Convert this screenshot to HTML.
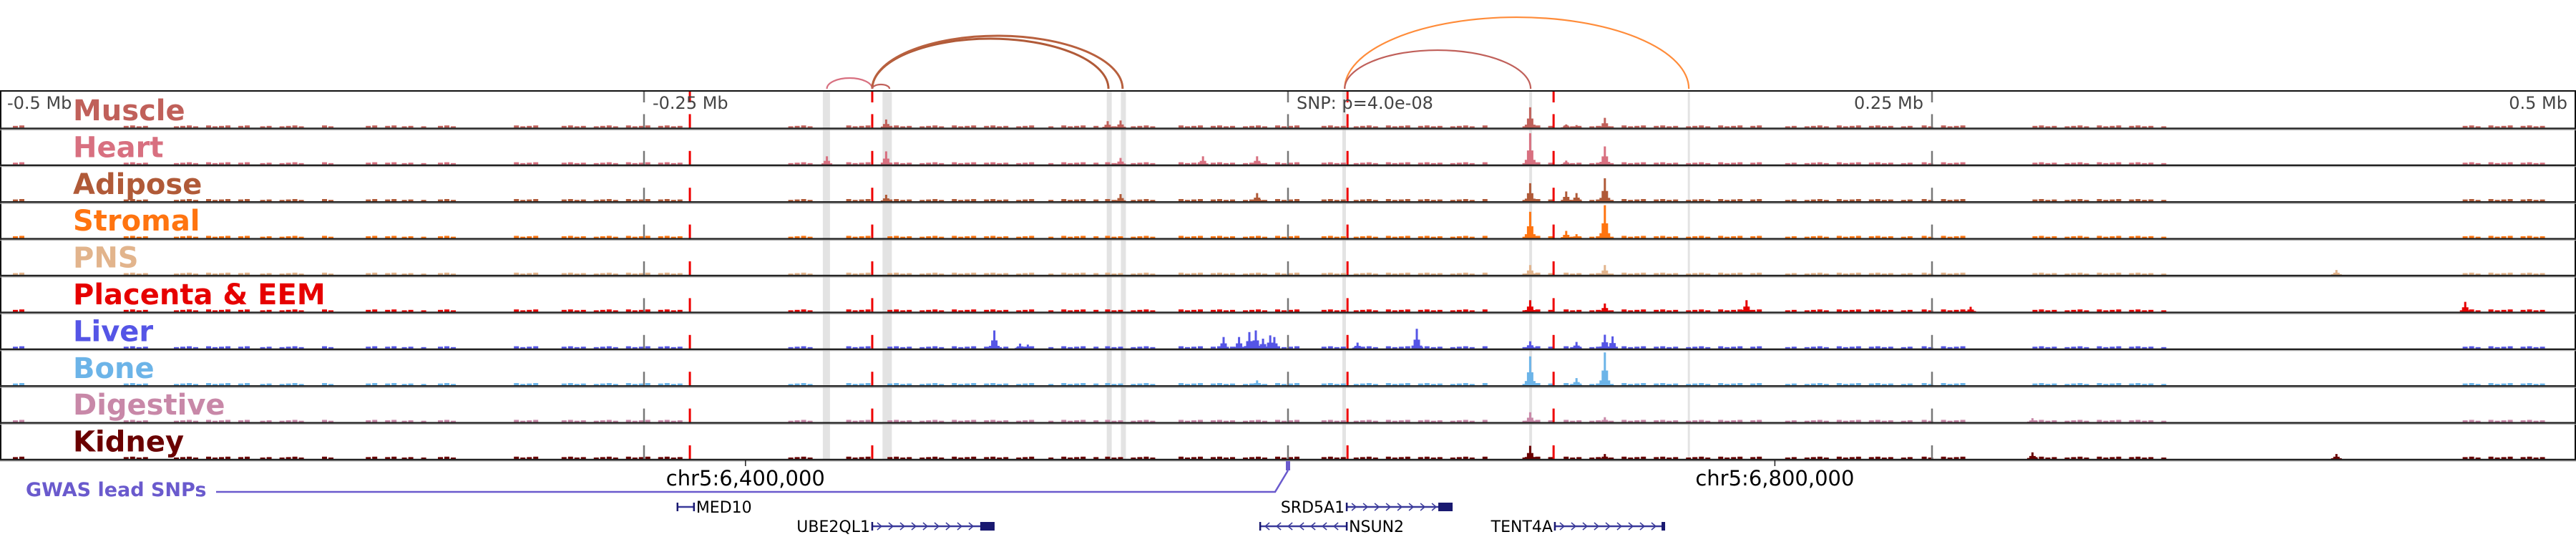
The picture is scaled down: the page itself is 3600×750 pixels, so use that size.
<!DOCTYPE html>
<html><head><meta charset="utf-8">
<style>
html,body{margin:0;padding:0;background:#fff;}
svg{display:block;}
text{font-family:"DejaVu Sans","Liberation Sans",sans-serif;}
</style></head>
<body>
<svg id="chart" width="3600" height="750" viewBox="0 0 3600 750" xmlns="http://www.w3.org/2000/svg">
<g id="bands"></g>
<g id="arcs"></g>
<g id="signals"></g>
<g id="vlines"></g>
<g id="frame"></g>
<g id="labels"></g>
<g id="axis"></g>
<g id="genes"></g>
</svg>
<script>
// ---------- data ----------
const trackNames = ["Muscle","Heart","Adipose","Stromal","PNS","Placenta & EEM","Liver","Bone","Digestive","Kidney"];
const trackColors = ["#c0605a","#d87080","#b05a38","#ff7410","#e2b48c","#e60000","#5555e6","#6cb4e8","#c888a8","#6a0000"];
const bgIntervals = [[-495,-492],[-474,-473],[-452,-442],[-435,-403],[-399,-379],[-375,-372],[-358,-346],[-344,-335],[-330,-323],[-303,-288],[-282,-233],[-194,-185],[-174,-162],[-158,-99],[-93,-75],[-71,-52],[-45,6],[13,77],[91,103],[107,184],[193,241],[246,266],[289,340],[456,490]];
const musclePeaks = [[94,0.62],[123,0.3],[-156,0.25],[-70,0.2],[-65,0.22],[108,0.1],[112,0.08]];
const heartPeaks = [[94,0.95],[123,0.55],[-179,0.25],[-156,0.4],[-65,0.2],[-33,0.25],[-12,0.25],[108,0.12]];
const adiposePeaks = [[94,0.55],[123,0.7],[108,0.3],[112,0.25],[-156,0.2],[-65,0.22],[-12,0.25]];
const stromalPeaks = [[94,0.8],[123,1.0],[108,0.22],[112,0.12]];
const pnsPeaks = [[94,0.3],[123,0.3],[407,0.15]];
const placentaPeaks = [[94,0.35],[123,0.25],[178,0.35],[265,0.15],[457,0.3]];
const liverPeaks = [[-114,0.55],[-104,0.15],[-101,0.12],[-25,0.35],[-19,0.35],[-15,0.5],[-12.5,0.55],[-9.7,0.3],[-6.9,0.4],[-5.3,0.35],[27,0.18],[50,0.6],[94,0.22],[112,0.2],[123,0.42],[126,0.37]];
const bonePeaks = [[94,0.88],[123,1.0],[112,0.22],[-12,0.15]];
const digestivePeaks = [[94,0.3],[123,0.15],[289,0.12]];
const kidneyPeaks = [[94,0.4],[123,0.15],[289,0.2],[407,0.15]];
const allPeaks = [musclePeaks,heartPeaks,adiposePeaks,stromalPeaks,pnsPeaks,placentaPeaks,liverPeaks,bonePeaks,digestivePeaks,kidneyPeaks];
const redMarkers = [-232.2,-161.4,23.1,103.1];
const grayMarkers = [-250,0,250];
const bandCenters = [-179.2,-155.6,-69.4,-63.9,21.8,94.2,155.6];
const bandWidths = [10,13,7,7,5,4,3];
const arcStarts = [-179,-161.4,-161.4,-161.4,22,22];
const arcEnds = [-161.4,-69.7,-64.2,-154.7,155.6,94.2];
const arcHeights = [15,70,74,6,100,54];
const arcColors = ["#d87080","#b05a38","#b8603e","#c0605a","#ff8c3a","#c0605a"];
const axisTicks = [-0.5,-0.25,0,0.25,0.5];
const axisTickLabels = ["-0.5 Mb","-0.25 Mb","SNP: p=4.0e-08","0.25 Mb","0.5 Mb"];
const chromTicks = [-210.6,189];
const chromTickLabels = ["chr5:6,400,000","chr5:6,800,000"];
const geneNames = ["MED10","UBE2QL1","SRD5A1","NSUN2","TENT4A"];
const geneStarts = [-237,-161.4,22.8,-10.8,103.6];
const geneEnds = [-230.6,-113.9,63.9,22.8,146.4];
const geneStrands = [-1,1,1,-1,1];
const geneRows = [0,1,0,1,1];

// ---------- scales ----------
const NS="http://www.w3.org/2000/svg";
const X = kb => 1800 + kb*3.6;
const TOP = 128, TH = 51.4, MAXH = 46;
const trackBottom = i => TOP + (i+1)*TH;
function mk(tag, attrs, parent){const e=document.createElementNS(NS,tag);for(const k in attrs)e.setAttribute(k,attrs[k]);parent.appendChild(e);return e;}
const gB=document.getElementById('bands'),gA=document.getElementById('arcs'),gS=document.getElementById('signals'),
gV=document.getElementById('vlines'),gF=document.getElementById('frame'),gL=document.getElementById('labels'),
gX=document.getElementById('axis'),gG=document.getElementById('genes');

// bands
bandCenters.forEach((c,i)=>{
  const r=mk('rect',{x:X(c)-bandWidths[i]/2,y:TOP,width:bandWidths[i],height:TH*10,fill:'#e3e3e3'},gB);
  
  
});

// arcs
arcStarts.forEach((s,i)=>{
  const x1=X(s),x2=X(arcEnds[i]),y0=124;
  const p=mk('path',{d:`M${x1},${y0} A${(x2-x1)/2},${arcHeights[i]} 0 0 1 ${x2},${y0}`,fill:'none',stroke:arcColors[i],'stroke-width':i===1||i===2?3:2.2},gA);
  
  
});

// signals
allPeaks.forEach((peaks,t)=>{
  const g=mk('g',{fill:trackColors[t]},gS);
  
  
  const b=trackBottom(t)-1;
  let idx=0;
  bgIntervals.forEach(iv=>{
    for(let k=iv[0];k<iv[1];k+=2.5){
      idx++;
      if(idx%5===3) continue;
      const h=2+((idx*7)%3)*0.6;
      mk('rect',{x:X(k),y:b-h,width:7,height:h},g);
    }
  });
  peaks.forEach(([kb,v])=>{
    const h=v*MAXH, cx=X(kb);
    mk('rect',{x:cx-1.5,y:b-h,width:3,height:h},g);
    mk('rect',{x:cx-4.5,y:b-h*0.45,width:9,height:h*0.45},g);
    mk('rect',{x:cx-7.5,y:b-h*0.15,width:15,height:h*0.15},g);
  });
});

// dashed marker lines
function dashed(kb,color,w){
  const x=X(kb);
  const l=mk('line',{x1:x,y1:TOP,x2:x,y2:143,stroke:color,'stroke-width':w},gV);
  
  
  for(let i=0;i<10;i++){
    const b=trackBottom(i);
    const s=mk('line',{x1:x,y1:b-20,x2:x,y2:b+1,stroke:color,'stroke-width':w},gV);
    
    
  }
}
redMarkers.forEach(k=>dashed(k,'#ee0000',3));
grayMarkers.forEach(k=>dashed(k,'#777',2.5));

// frame
mk('rect',{x:1,y:TOP-1,width:3598,height:TH*10+1,fill:'none',stroke:'#111','stroke-width':2},gF);
for(let i=0;i<10;i++){
  const b=trackBottom(i);
  mk('line',{x1:0,y1:b,x2:3600,y2:b,stroke:'#222','stroke-width':2.4},gF);
  mk('line',{x1:0,y1:b+2,x2:3600,y2:b+2,stroke:'#aaa','stroke-width':1},gF);
}

// labels
trackNames.forEach((n,i)=>{
  const t=mk('text',{x:102,y:TOP+i*TH+40,fill:trackColors[i],'font-size':40,'font-weight':'bold'},gL);
  t.textContent=n;
  
  
});

// axis tick labels
axisTicks.forEach((v,i)=>{
  const x=X(v*1000);
  const anchor = i===0?'start':(i===1||i===2?'start':'end');
  const tx = i===0?10:(i===1||i===2?x+12:x-12);
  const t=mk('text',{x:tx,y:152,fill:'#444','font-size':24,'text-anchor':anchor},gX);
  t.textContent=axisTickLabels[i];
  
  
});

// chromosome axis
chromTicks.forEach((kb,i)=>{
  const x=X(kb);
  mk('line',{x1:x,y1:642,x2:x,y2:651,stroke:'#222','stroke-width':1.5},gX);
  const t=mk('text',{x:x,y:678,fill:'#000','font-size':29,'text-anchor':'middle'},gX);
  t.textContent=chromTickLabels[i];
  
  
});

// GWAS
const gw=mk('text',{x:36,y:693,fill:'#6a5acd','font-size':27,'font-weight':'bold'},gX);
gw.textContent='GWAS lead SNPs';


mk('polyline',{points:`302,687 ${X(-5)},687 ${X(0)},657`,fill:'none',stroke:'#6a5acd','stroke-width':2.5},gX);
const snp=mk('rect',{x:X(0)-3,y:644,width:6,height:13,fill:'#6a5acd'},gX);



// genes
geneNames.forEach((n,i)=>{
  const x1=X(geneStarts[i]),x2=X(geneEnds[i]),y=geneRows[i]?735:708;
  const g=mk('g',{},gG);
  
  
  mk('line',{x1:x1,y1:y,x2:x2,y2:y,stroke:'#3a3a9a','stroke-width':2.5},g);
  mk('line',{x1:x1,y1:y-6,x2:x1,y2:y+6,stroke:'#191970','stroke-width':2.5},g);
  for(let x=x1+10;x<x2-14;x+=16){
    const d=geneStrands[i];
    mk('polyline',{points:`${x-3*d},${y-5} ${x+3*d},${y} ${x-3*d},${y+5}`,fill:'none',stroke:'#3a3a9a','stroke-width':1.5},g);
  }
  if(geneStrands[i]>0) mk('rect',{x:x2-(n==='TENT4A'?5:20),y:y-6,width:n==='TENT4A'?5:20,height:12,fill:'#191970'},g);
  else mk('line',{x1:x2,y1:y-6,x2:x2,y2:y+6,stroke:'#191970','stroke-width':2.5},g);
  const rightText = (n==='MED10'||n==='NSUN2');
  const t=mk('text',{x:rightText?x2+3:x1-3,y:y+8,fill:'#000','font-size':22,'text-anchor':rightText?'start':'end'},g);
  t.textContent=n;
});
</script>
</body></html>
